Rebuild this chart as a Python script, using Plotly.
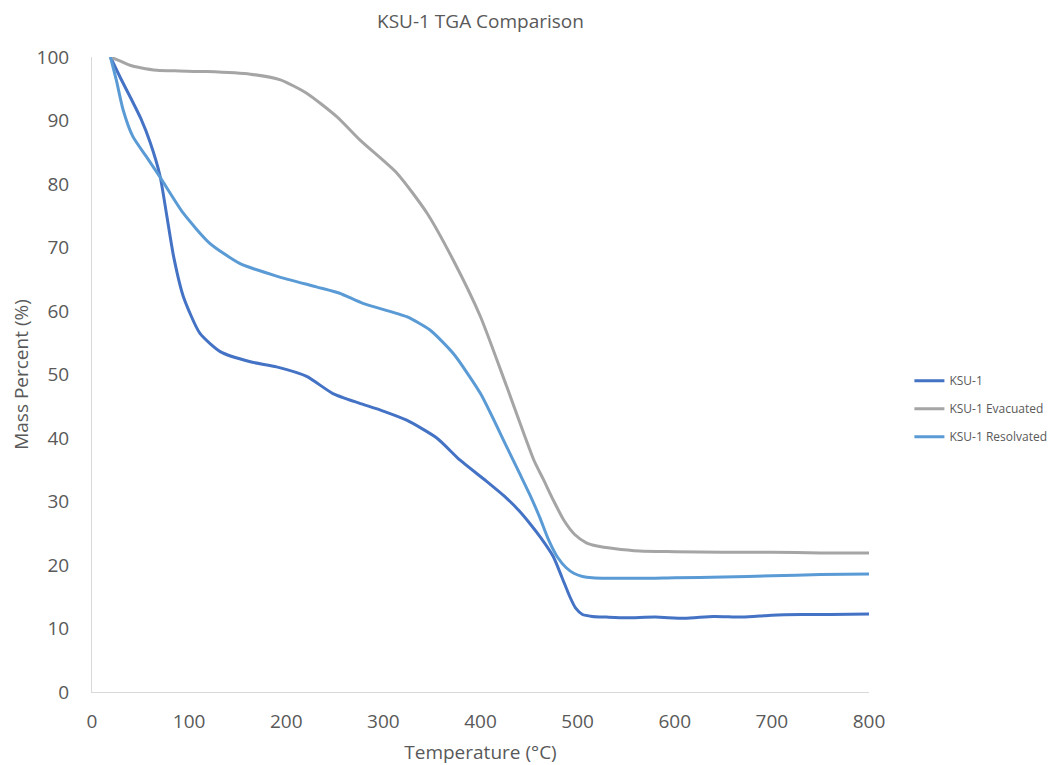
import plotly.graph_objects as go

# KSU-1
T_ksu1 = [19, 30, 40, 50, 60, 70, 77, 84, 94, 111, 132, 163, 190, 221, 248, 275, 297, 324, 355, 379, 406, 427, 440, 451, 462, 475, 484, 492, 498, 505, 515, 530, 550, 580, 610, 640, 670, 700, 730, 760, 800]
M_ksu1 = [100, 96.5, 93.5, 90.4, 86.5, 81.3, 75.0, 68.6, 62.3, 56.5, 53.6, 52.0, 51.2, 49.7, 47.0, 45.5, 44.4, 42.8, 40.0, 36.5, 33.2, 30.5, 28.5, 26.5, 24.3, 21.3, 18.0, 15.0, 13.2, 12.2, 11.9, 11.8, 11.7, 11.8, 11.6, 11.9, 11.8, 12.1, 12.2, 12.2, 12.3]

# KSU-1 Evacuated
T_evac = [19, 30, 39, 50, 67, 90, 118, 163, 194, 221, 252, 276, 314, 345, 372, 400, 427, 455, 465, 475, 486, 497, 509, 520, 537, 564, 600, 650, 700, 750, 800]
M_evac = [100, 99.3, 98.7, 98.3, 97.9, 97.8, 97.7, 97.3, 96.4, 94.3, 90.6, 86.9, 81.7, 75.4, 68.0, 59.1, 48.1, 36.5, 33.4, 30.2, 27.0, 24.8, 23.5, 23.0, 22.6, 22.2, 22.1, 22.0, 22.0, 21.9, 21.9]

# KSU-1 Resolvated
T_res = [19, 25, 32, 42, 56, 70, 94, 121, 152, 190, 231, 255, 279, 324, 348, 372, 400, 427, 440, 451, 461, 470, 479, 488, 496, 505, 515, 564, 600, 650, 700, 750, 800]
M_res = [100, 96.4, 91.7, 87.5, 84.3, 81.1, 75.4, 70.7, 67.5, 65.5, 63.8, 62.8, 61.2, 59.1, 57.0, 53.3, 47.0, 38.6, 34.5, 31.0, 27.5, 24.0, 21.3, 19.6, 18.7, 18.2, 18.0, 17.9, 18.0, 18.1, 18.3, 18.5, 18.6]

series_names = ["KSU-1", "KSU-1 Evacuated", "KSU-1 Resolvated"]
colors = ["#4472C4", "#A5A5A5", "#5B9BD5"]
data = [(T_ksu1, M_ksu1), (T_evac, M_evac), (T_res, M_res)]

x_ticks = [0, 100, 200, 300, 400, 500, 600, 700, 800]
y_ticks = [0, 10, 20, 30, 40, 50, 60, 70, 80, 90, 100]

fig = go.Figure()
for name, col, (xs, ys) in zip(series_names, colors, data):
    fig.add_trace(go.Scatter(
        x=xs, y=ys, mode="lines", name=name, legendgroup=name,
        line=dict(color=col, width=3, shape="spline", smoothing=0.6),
    ))

font_family = "Open Sans, sans-serif"
txt = "#595959"
# page body has an 8px default margin, so the figure is sized/placed to compensate
fig.update_layout(
    width=1052, height=757,
    margin=dict(l=84, r=191, t=49, b=73, autoexpand=False),
    paper_bgcolor="white", plot_bgcolor="white",
    font=dict(family=font_family, color=txt),
    title=dict(text="KSU-1 TGA Comparison", x=0.5, xref="paper", y=0.983, yanchor="middle",
               font=dict(size=19, color=txt)),
    showlegend=True,
    legend=dict(x=1.052, xanchor="left", y=0.446, yanchor="middle",
                font=dict(size=12, color=txt), tracegroupgap=9,
                bgcolor="rgba(0,0,0,0)"),
)
fig.update_xaxes(range=[0, 800], tickvals=x_ticks, showgrid=False, zeroline=False,
                 automargin=False,
                 showline=True, linecolor="#D9D9D9", linewidth=1, ticks="",
                 tickfont=dict(size=19, color=txt), ticklabelstandoff=12,
                 title=dict(text="Temperature (°C)", font=dict(size=19, color=txt)))
fig.update_yaxes(range=[0, 100], tickvals=y_ticks, showgrid=False, zeroline=False,
                 automargin=False,
                 showline=True, linecolor="#D9D9D9", linewidth=1, ticks="",
                 tickfont=dict(size=19, color=txt), ticklabelstandoff=18,
                 title=dict(text="Mass Percent (%)", font=dict(size=19, color=txt)))

fig.write_html("out.html")
